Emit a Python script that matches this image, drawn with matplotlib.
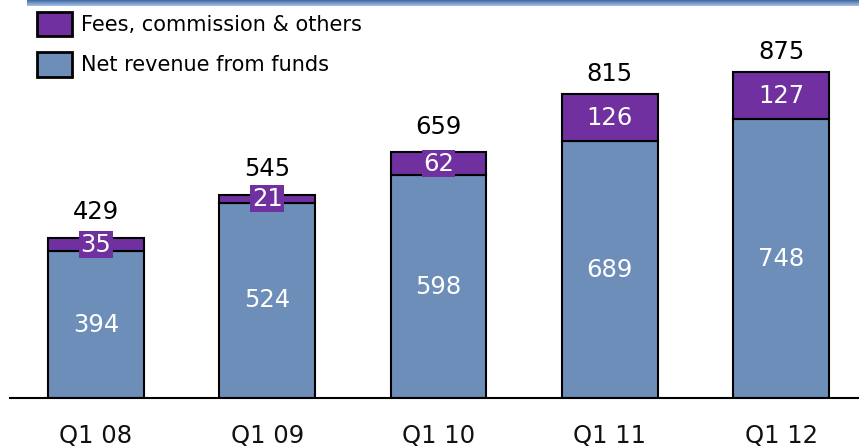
import numpy as np
import matplotlib
matplotlib.use("Agg")
import matplotlib.pyplot as plt
from matplotlib.patches import Patch

quarters = ["Q1 08", "Q1 09", "Q1 10", "Q1 11", "Q1 12"]
net_funds = [394, 524, 598, 689, 748]
fees = [35, 21, 62, 126, 127]
totals = [429, 545, 659, 815, 875]

blue = "#6E8EBA"
purple = "#7030A0"

plt.rcParams["font.family"] = ["DejaVu Sans"]

fig = plt.figure(figsize=(8.59, 4.48), dpi=100)

ax = fig.add_axes([10 / 859, 50 / 448, 849 / 859, 398 / 448])
ax.patch.set_visible(False)
x = np.arange(len(quarters))
w = 0.56
ax.bar(x, net_funds, w, color=blue, edgecolor="black", linewidth=1.5, zorder=2)
ax.bar(x, fees, w, bottom=net_funds, color=purple, edgecolor="black", linewidth=1.5, zorder=2)

for i in range(len(quarters)):
    ax.text(x[i], net_funds[i] / 2, str(net_funds[i]), ha="center", va="center",
            color="white", fontsize=17.5, zorder=3)
    small = fees[i] < 80
    ax.text(x[i], net_funds[i] + fees[i] / 2, str(fees[i]), ha="center", va="center",
            color="white", fontsize=17.5, zorder=3,
            bbox=dict(boxstyle="square,pad=0.06", fc=purple, ec="none") if small else None)
    ax.annotate(str(totals[i]), (x[i], totals[i]), xytext=(0, 10 if small else 6),
                textcoords="offset points", ha="center", va="bottom",
                fontsize=17.5, color="black", zorder=3)

ax.set_xlim(-0.502, 4.455)
ax.set_ylim(0, 1068)
for s in ["top", "right", "left"]:
    ax.spines[s].set_visible(False)
ax.spines["bottom"].set_linewidth(1.5)
ax.set_yticks([])
ax.set_xticks(x)
ax.set_xticklabels(quarters, fontsize=17.5, color="#111111")
ax.tick_params(axis="x", length=0, pad=19)

handles = [Patch(facecolor=purple, edgecolor="black", linewidth=2),
           Patch(facecolor=blue, edgecolor="black", linewidth=2)]
ax.legend(handles, ["Fees, commission & others", "Net revenue from funds"],
          loc="upper left", bbox_to_anchor=(0.0224, 0.992), frameon=False,
          fontsize=15, handlelength=1.65, handleheight=1.45, handletextpad=0.45,
          labelspacing=0.75, borderaxespad=0)

# gradient band across the top
band = fig.add_axes([27 / 859, 442 / 448, 1 - 27 / 859, 6 / 448])
grad = np.linspace(0, 1, 50).reshape(-1, 1)
band.imshow(grad, aspect="auto", cmap=matplotlib.colors.LinearSegmentedColormap.from_list(
    "band", ["#3F6AA6", "#A9C2E4"]), origin="upper")
band.axis("off")

fig.savefig("out.png", dpi=100)
